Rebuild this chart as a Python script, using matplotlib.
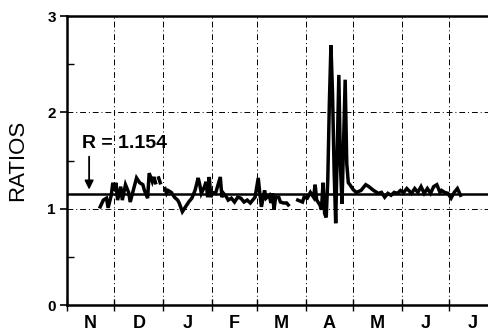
import numpy as np
import matplotlib
matplotlib.use('Agg')
import matplotlib.pyplot as plt

plt.rcParams['font.family'] = ['Liberation Sans', 'DejaVu Sans']

# days counted from 1 Nov, one value per reading (nan = no data)
day = [21, 23, 25, 26, 28, 29, 30, 31, 32, 34, 35, 37, 39, 40, 44, 46, 48, 49, 51, 52,
       54, 55, 56, 57, 58, 59, 60,
       62, 63, 64, 66, 68, 70, 71, 73, 75, 77, 79, 81, 83, 84, 85, 87, 88, 89, 90, 91,
       92, 94, 97, 98, 99, 101, 102, 104, 106, 108, 110, 112, 114, 116, 119, 121, 122,
       123, 125, 126, 128, 129, 130, 131, 132, 134, 135, 137, 139, 140, 141,
       146, 149, 150, 152, 154, 156, 157, 158, 160, 161, 162, 163,
       164, 165, 166, 167, 168, 169, 170, 171, 172, 173, 174, 175, 176, 177, 178, 179,
       181, 183, 186, 189, 191, 194, 197, 199, 201, 203, 205, 207, 209, 211, 213, 215,
       218, 220, 222, 224, 226, 228, 230, 232, 234, 236, 237, 239, 241, 243, 245, 247, 249]
ratio = [1.02, 1.09, 1.11, 1.01, 1.14, 1.27, 1.19, 1.27, 1.09, 1.23, 1.09, 1.25, 1.17, 1.07,
         1.32, 1.27, 1.25, 1.19, 1.11, 1.37,
         1.28, 1.33, 1.27, np.nan, 1.32, 1.27, np.nan,
         1.21, 1.16, 1.19, 1.17, 1.12, 1.09, 1.06, 0.97, 1.02, 1.07, 1.11, 1.19, 1.32, 1.25,
         1.16, 1.23, 1.28, 1.12, 1.33, 1.12,
         1.17, 1.16, 1.33, 1.12, 1.16, 1.12, 1.09, 1.11, 1.07, 1.12, 1.11, 1.07, 1.09, 1.06,
         1.12, 1.32, 1.16,
         1.02, 1.19, 1.11, 1.14, 1.06, 1.16, 0.99, 1.12, 1.12, 1.07, 1.06, 1.06, 1.04, np.nan,
         1.09, 1.07, 1.12, 1.11, 1.17, 1.12, 1.25, 1.09, 1.04, 0.99, 1.27, 0.95,
         0.91, 1.30, 2.10, 2.70, 2.20, 1.40, 0.85, 1.60, 2.39, 1.45, 1.05, 1.70, 2.34, 1.47,
         1.27, 1.25,
         1.20, 1.17, 1.19, 1.25, 1.23, 1.19, 1.16, 1.17, 1.12, 1.16, 1.14, 1.17, 1.16, 1.19,
         1.17, 1.21,
         1.16, 1.21, 1.17, 1.23, 1.16, 1.21, 1.16, 1.23, 1.25, 1.17, 1.19, 1.17, 1.16, 1.11,
         1.17, 1.21, 1.14]

month_start = [0, 30, 61, 92, 120, 151, 181, 212, 242]
month_labels = ['N', 'D', 'J', 'F', 'M', 'A', 'M', 'J', 'J']
month_mid = [15, 45.5, 76.5, 106, 135.5, 166, 196.5, 227, 257]
R = 1.154

fig = plt.figure(figsize=(4.89, 3.36), dpi=100)
ax = fig.add_axes([0.137, 0.092, 0.863, 0.860])

# dash-dot grid
grid_style = dict(color='black', lw=0.7, dashes=(6, 3, 1, 3), zorder=1)
for m in month_start[1:]:
    ax.axvline(m, **grid_style)
for g in [1, 2]:
    ax.axhline(g, **grid_style)

ax.axhline(R, color='black', lw=1.8, zorder=2)
ax.plot(day, ratio, color='black', lw=2.5, solid_joinstyle='miter', zorder=3)

ax.text(9.5, 1.68, 'R = 1.154', fontsize=14, fontweight='bold', ha='left', va='center')
ax.annotate('', xy=(14, 1.17), xytext=(14, 1.57),
            arrowprops=dict(arrowstyle='-|>', color='black', lw=1.3, mutation_scale=13))

ax.set_xlim(0, 267)
ax.set_ylim(0, 3)

ax.set_xticks(month_start)
ax.set_xticklabels([])
ax.set_xticks(month_mid, minor=True)
ax.set_xticklabels(month_labels, minor=True, fontsize=13, fontweight='bold')
ax.tick_params(axis='x', which='major', direction='inout', length=9, width=1)
ax.tick_params(axis='x', which='minor', length=0, pad=7)

ax.set_yticks([0, 1, 2, 3])
ax.set_yticklabels(['0', '1', '2', '3'], fontsize=11, fontweight='bold')
ax.set_yticks([0.5, 1.5, 2.5], minor=True)
ax.tick_params(axis='y', which='major', direction='out', length=5, width=1.2, pad=3)
ax.tick_params(axis='y', which='minor', direction='in', length=5, width=1)

ax.set_ylabel('RATIOS', fontsize=16, labelpad=14)

for s in ['left', 'bottom', 'top']:
    ax.spines[s].set_linewidth(1.8)
ax.spines['right'].set_visible(False)

fig.savefig('out.png', dpi=100)
